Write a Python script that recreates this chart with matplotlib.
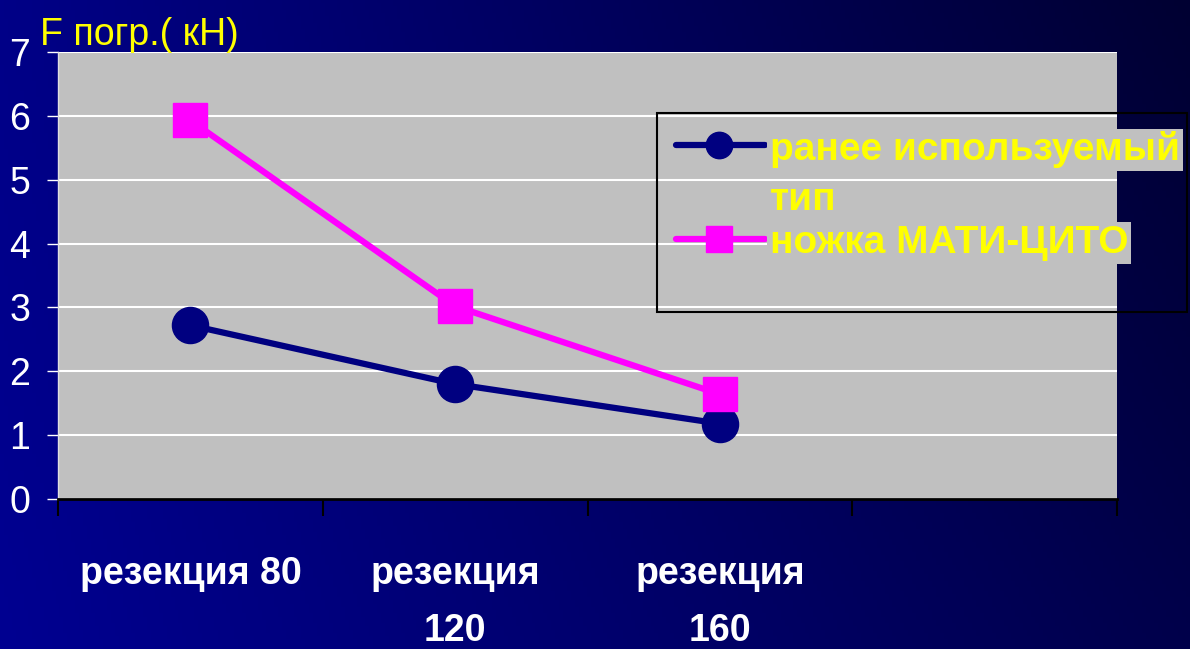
import matplotlib
matplotlib.use('Agg')
import matplotlib.pyplot as plt
from matplotlib.lines import Line2D
from matplotlib.patches import Rectangle
import numpy as np

# data
categories = ['резекция 80', 'резекция\n120', 'резекция\n160']
old_type = [2.72, 1.80, 1.18]
mati_cito = [5.93, 3.02, 1.64]
series_names = ['ранее используемый', 'тип', 'ножка МАТИ-ЦИТО']
y_ticks = [0, 1, 2, 3, 4, 5, 6, 7]

W, H = 1190, 649
FONT = ['Liberation Sans', 'DejaVu Sans']


def fx(px):
    return px / W


def fy(py):
    return 1 - py / H


fig = plt.figure(figsize=(W / 100, H / 100), dpi=100)

# dark blue gradient background
bg = fig.add_axes([0, 0, 1, 1], zorder=-10)
gx = np.linspace(0, 1, 300)
gy = np.linspace(0, 1, 200)
X, Y = np.meshgrid(gx, gy)
b = 135 - 70 * X + 10 * Y - 15 * X * (1 - Y)
img = np.zeros((200, 300, 3))
img[..., 2] = np.clip(b, 0, 255) / 255
bg.imshow(img, aspect='auto', extent=[0, 1, 0, 1], origin='upper')
bg.axis('off')

ax = fig.add_axes([fx(58), fy(499), fx(1117) - fx(58), fy(52) - fy(499)])
ax.set_facecolor('#c0c0c0')

x = np.arange(len(categories))
blue_style = dict(color='#000080', lw=4.5, marker='o', solid_capstyle='round')
pink_style = dict(color='#ff00ff', lw=4.5, marker='s', solid_capstyle='round')
ax.plot(x, old_type, ms=26, zorder=3, **blue_style)
ax.plot(x, mati_cito, ms=24, zorder=3, **pink_style)

ax.set_xlim(-0.5, 3.5)
ax.set_ylim(0, 7)
ax.set_yticks(y_ticks)
ax.yaxis.grid(True, color='white', lw=1.5)
ax.set_axisbelow(True)

for s in ['top', 'right']:
    ax.spines[s].set_visible(False)
ax.spines['left'].set_color('#e0e0e0')
ax.spines['left'].set_linewidth(1)
ax.spines['bottom'].set_color('black')
ax.spines['bottom'].set_linewidth(2)

ax.tick_params(axis='y', colors='white', length=8, width=1, pad=12,
               labelsize=27)
for lab in ax.get_yticklabels():
    lab.set_fontfamily(FONT)

ax.set_xticks(np.arange(-0.5, 4.0, 1.0))
ax.set_xticklabels([])
ax.tick_params(axis='x', which='major', colors='black', length=12, width=1.5)
ax.set_xticks(x, minor=True)
ax.set_xticklabels(categories, minor=True, fontsize=27, fontweight='bold',
                   color='white', family=FONT, linespacing=1.75, va='top')
ax.tick_params(axis='x', which='minor', length=0, pad=41, labelcolor='white')

fig.text(fx(40), fy(45), 'F погр.( кН)', color='yellow', fontsize=27,
         family=FONT, va='baseline', ha='left')

# legend drawn by hand to match the slide's layout
fig.add_artist(Rectangle((fx(657), fy(312)), fx(1187) - fx(657), fy(113) - fy(312),
                         transform=fig.transFigure, fill=False,
                         edgecolor='black', lw=1.5, zorder=5))
for y_px, style, ms in [(145, blue_style, 19), (239, pink_style, 19)]:
    fig.add_artist(Line2D([fx(676), fx(765)], [fy(y_px), fy(y_px)],
                          transform=fig.transFigure, zorder=6, ms=ms,
                          markevery=[], **style))
    fig.add_artist(Line2D([fx(719)], [fy(y_px)], transform=fig.transFigure,
                          zorder=7, ms=ms, lw=0, marker=style['marker'],
                          color=style['color']))

label_pos = [(150, '#c0c0c0'), (200, None), (243, '#c0c0c0')]
for name, (y_px, box) in zip(series_names, label_pos):
    kw = {}
    if box:
        kw['bbox'] = dict(facecolor=box, edgecolor='none', pad=2)
    fig.text(fx(770), fy(y_px), name, color='yellow', fontsize=28,
             fontweight='bold', family=FONT, va='center', ha='left',
             zorder=8, **kw)

fig.savefig('out.png', dpi=100, facecolor='#000070')
